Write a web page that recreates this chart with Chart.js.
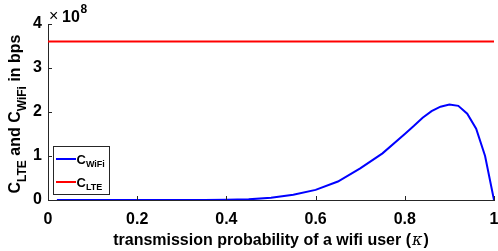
<!DOCTYPE html>
<html>
<head>
<meta charset="utf-8">
<script src="https://cdn.jsdelivr.net/npm/chart.js@4"></script>
<style>
  html, body { margin: 0; padding: 0; background: #fff; }
  #wrap { width: 498px; height: 251px; }
</style>
</head>
<body>
<div id="wrap"><canvas id="capChart" width="498" height="251"></canvas></div>
<script>
// 데이터 (값은 그림에서 읽은 추정치)
const kappa = [0.02, 0.05, 0.1, 0.15, 0.2, 0.25, 0.3, 0.35, 0.4, 0.45, 0.5, 0.55, 0.6, 0.65, 0.7, 0.75, 0.8, 0.82, 0.84, 0.86, 0.88, 0.9, 0.92, 0.94, 0.96, 0.98, 1.0];
const wifiCap = [0, 0, 0, 0, 0, 0, 0, 0.001e8, 0.004e8, 0.015e8, 0.05e8, 0.12e8, 0.23e8, 0.42e8, 0.72e8, 1.06e8, 1.50e8, 1.68e8, 1.87e8, 2.02e8, 2.12e8, 2.17e8, 2.14e8, 1.96e8, 1.62e8, 1.00e8, 0];
const lteKappa = [0, 1];
const lteCap = [3.6e8, 3.6e8];
const xTicks = [0, 0.2, 0.4, 0.6, 0.8, 1];
const yTicks = [0, 1e8, 2e8, 3e8, 4e8];

const FONT = '"Liberation Sans", Arial, Helvetica, sans-serif';

function toPoints(xs, ys) {
    return xs.map((x, i) => ({ x: x, y: ys[i] }));
}

// 안쪽 눈금, 축 제목, 범례, 지수 표시를 그리는 플러그인
const decorPlugin = {
    id: 'decor',
    afterDraw(chart) {
        const ctx = chart.ctx;
        const xs = chart.scales.x;
        const ys = chart.scales.y;
        const area = chart.chartArea;
        ctx.save();

        // 안쪽 눈금
        ctx.strokeStyle = '#262626';
        ctx.lineWidth = 1;
        xTicks.forEach(v => {
            const px = Math.round(xs.getPixelForValue(v)) + 0.5;
            ctx.beginPath();
            ctx.moveTo(px, area.bottom);
            ctx.lineTo(px, area.bottom - 4);
            ctx.stroke();
        });
        yTicks.forEach(v => {
            const py = Math.round(ys.getPixelForValue(v)) + 0.5;
            ctx.beginPath();
            ctx.moveTo(area.left, py);
            ctx.lineTo(area.left + 4, py);
            ctx.stroke();
        });

        ctx.fillStyle = '#000';
        ctx.textBaseline = 'alphabetic';

        // x축 제목
        const xTitle = 'transmission probability of a wifi user (';
        ctx.font = 'bold 16px ' + FONT;
        const w1 = ctx.measureText(xTitle).width;
        ctx.font = 'italic 16px "DejaVu Serif", serif';
        const wk = ctx.measureText('\u03ba').width;
        ctx.font = 'bold 16px ' + FONT;
        const w2 = ctx.measureText(')').width;
        let tx = (area.left + area.right) / 2 - (w1 + wk + w2 + 2) / 2;
        const ty = 245;
        ctx.textAlign = 'left';
        ctx.fillText(xTitle, tx, ty);
        tx += w1 + 1;
        ctx.font = 'italic 16px "DejaVu Serif", serif';
        ctx.fillText('\u03ba', tx, ty);
        tx += wk + 1;
        ctx.font = 'bold 16px ' + FONT;
        ctx.fillText(')', tx, ty);

        // y축 제목 (회전)
        ctx.save();
        ctx.translate(20, 114);
        ctx.rotate(-Math.PI / 2);
        const parts = [
            ['C', 'main'], ['LTE', 'sub'], [' and ', 'main'], ['C', 'main'], ['WiFi', 'sub'], [' in bps', 'main']
        ];
        const mainFont = 'bold 16px ' + FONT;
        const subFont = 'bold 12px ' + FONT;
        let total = 0;
        parts.forEach(p => {
            ctx.font = p[1] === 'main' ? mainFont : subFont;
            total += ctx.measureText(p[0]).width;
        });
        let cx = -total / 2;
        parts.forEach(p => {
            ctx.font = p[1] === 'main' ? mainFont : subFont;
            ctx.fillText(p[0], cx, p[1] === 'main' ? 0 : 6);
            cx += ctx.measureText(p[0]).width;
        });
        ctx.restore();

        // 지수 표시 ×10^8
        ctx.font = '16px ' + FONT;
        ctx.fillText('\u00d7', 49, 21);
        ctx.font = 'bold 16px ' + FONT;
        ctx.fillText('10', 62, 22);
        ctx.font = 'bold 12px ' + FONT;
        ctx.fillText('8', 80.5, 13);

        // 범례
        const bx = 53.5, by = 146.5, bw = 56, bh = 48;
        ctx.fillStyle = '#fff';
        ctx.fillRect(bx, by, bw, bh);
        ctx.strokeStyle = '#262626';
        ctx.lineWidth = 1;
        ctx.strokeRect(bx, by, bw, bh);
        const items = [
            { color: '#0000ff', sub: 'WiFi', y: 159 },
            { color: '#ff0000', sub: 'LTE', y: 182 }
        ];
        items.forEach(it => {
            ctx.strokeStyle = it.color;
            ctx.lineWidth = 2;
            ctx.beginPath();
            ctx.moveTo(56, it.y);
            ctx.lineTo(76, it.y);
            ctx.stroke();
            ctx.fillStyle = '#000';
            ctx.font = 'bold 13px ' + FONT;
            ctx.fillText('C', 76.5, it.y + 4.5);
            const cw = ctx.measureText('C').width;
            ctx.font = 'bold 9px ' + FONT;
            ctx.fillText(it.sub, 76.5 + cw, it.y + 8);
        });

        ctx.restore();
    }
};

const ctx = document.getElementById('capChart').getContext('2d');
new Chart(ctx, {
    type: 'line',
    data: {
        datasets: [
            {
                label: 'C_WiFi',
                data: toPoints(kappa, wifiCap),
                borderColor: '#0000ff',
                borderWidth: 2,
                pointRadius: 0,
                tension: 0,
                fill: false
            },
            {
                label: 'C_LTE',
                data: toPoints(lteKappa, lteCap),
                borderColor: '#ff0000',
                borderWidth: 2,
                pointRadius: 0,
                tension: 0,
                fill: false
            }
        ]
    },
    options: {
        responsive: false,
        animation: false,
        layout: { padding: { left: 0, right: 4, top: 24, bottom: 0 } },
        plugins: {
            legend: { display: false },
            tooltip: { enabled: false }
        },
        scales: {
            x: {
                type: 'linear',
                min: 0,
                max: 1,
                afterFit: s => { s.height = 51; s.paddingLeft = 0; s.paddingRight = 0; },
                afterBuildTicks: s => { s.ticks = xTicks.map(v => ({ value: v })); },
                grid: { display: false, drawTicks: false },
                border: { display: true, color: '#262626', width: 1 },
                ticks: {
                    color: '#000',
                    padding: 10,
                    maxRotation: 0,
                    font: { family: FONT, size: 16, weight: 'bold' },
                    callback: v => String(v)
                }
            },
            y: {
                min: 0,
                max: 4e8,
                afterFit: s => { s.width = 48; s.paddingTop = 0; s.paddingBottom = 0; },
                afterBuildTicks: s => { s.ticks = yTicks.map(v => ({ value: v })); },
                grid: { display: false, drawTicks: false },
                border: { display: true, color: '#262626', width: 1 },
                ticks: {
                    color: '#000',
                    padding: 6,
                    font: { family: FONT, size: 16, weight: 'bold' },
                    callback: v => String(Math.round(v / 1e8))
                }
            }
        }
    },
    plugins: [decorPlugin]
});
</script>
</body>
</html>
